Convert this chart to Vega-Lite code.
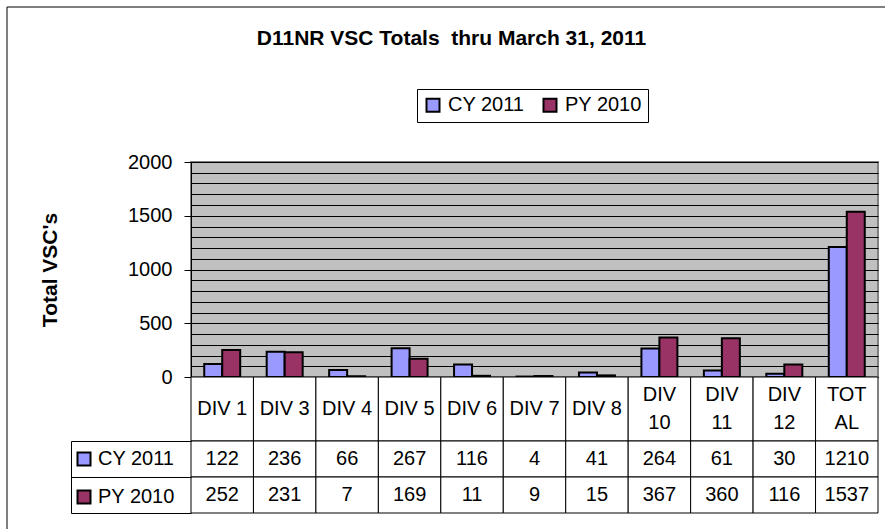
{
  "$schema": "https://vega.github.io/schema/vega-lite/v6.json",
  "background": "white",
  "padding": {"left": 6, "top": 6, "right": 0, "bottom": 0},
  "autosize": {"type": "pad"},
  "bounds": "flush",
  "spacing": 0,
  "config": {"font": "Liberation Sans", "view": {"stroke": null}},
  "resolve": {"scale": {"color": "independent"}, "legend": {"color": "independent"}},
  "datasets": {
    "series": [
      {"div": "DIV 1", "series": "CY 2011", "value": 122},
      {"div": "DIV 1", "series": "PY 2010", "value": 252},
      {"div": "DIV 3", "series": "CY 2011", "value": 236},
      {"div": "DIV 3", "series": "PY 2010", "value": 231},
      {"div": "DIV 4", "series": "CY 2011", "value": 66},
      {"div": "DIV 4", "series": "PY 2010", "value": 7},
      {"div": "DIV 5", "series": "CY 2011", "value": 267},
      {"div": "DIV 5", "series": "PY 2010", "value": 169},
      {"div": "DIV 6", "series": "CY 2011", "value": 116},
      {"div": "DIV 6", "series": "PY 2010", "value": 11},
      {"div": "DIV 7", "series": "CY 2011", "value": 4},
      {"div": "DIV 7", "series": "PY 2010", "value": 9},
      {"div": "DIV 8", "series": "CY 2011", "value": 41},
      {"div": "DIV 8", "series": "PY 2010", "value": 15},
      {"div": "DIV 10", "series": "CY 2011", "value": 264},
      {"div": "DIV 10", "series": "PY 2010", "value": 367},
      {"div": "DIV 11", "series": "CY 2011", "value": 61},
      {"div": "DIV 11", "series": "PY 2010", "value": 360},
      {"div": "DIV 12", "series": "CY 2011", "value": 30},
      {"div": "DIV 12", "series": "PY 2010", "value": 116},
      {"div": "TOTAL", "series": "CY 2011", "value": 1210},
      {"div": "TOTAL", "series": "PY 2010", "value": 1537}
    ],
    "cats": [
      {"div": "DIV 1", "label": "DIV 1"},
      {"div": "DIV 3", "label": "DIV 3"},
      {"div": "DIV 4", "label": "DIV 4"},
      {"div": "DIV 5", "label": "DIV 5"},
      {"div": "DIV 6", "label": "DIV 6"},
      {"div": "DIV 7", "label": "DIV 7"},
      {"div": "DIV 8", "label": "DIV 8"},
      {"div": "DIV 10", "label": "DIV\n10"},
      {"div": "DIV 11", "label": "DIV\n11"},
      {"div": "DIV 12", "label": "DIV\n12"},
      {"div": "TOTAL", "label": "TOT\nAL"}
    ]
  },
  "vconcat": [
    {
      "width": 687,
      "height": 215,
      "view": {"fill": "#C0C0C0", "stroke": "#808080", "strokeWidth": 2},
      "title": {
        "text": "D11NR VSC Totals\u00a0 thru March 31, 2011",
        "fontSize": 21,
        "fontWeight": "bold",
        "color": "black",
        "anchor": "middle",
        "frame": "group",
        "dx": -83,
        "offset": -42
      },
      "data": {"name": "series"},
      "encoding": {
        "x": {"field": "div", "type": "nominal", "sort": null, "scale": {"paddingInner": 0.424, "paddingOuter": 0.212}, "axis": null},
        "xOffset": {"field": "series", "type": "nominal", "sort": null, "scale": {"paddingInner": 0, "paddingOuter": 0}},
        "y": {
          "field": "value",
          "type": "quantitative",
          "scale": {"domain": [0, 2000], "nice": false},
          "axis": {
            "values": [0, 100, 200, 300, 400, 500, 600, 700, 800, 900, 1000, 1100, 1200, 1300, 1400, 1500, 1600, 1700, 1800, 1900, 2000],
            "labelExpr": "datum.value % 500 === 0 ? datum.value : ''",
            "grid": true,
            "gridColor": "black",
            "gridWidth": 1,
            "gridOpacity": 1,
            "domain": true,
            "domainColor": "black",
            "domainWidth": 1,
            "ticks": true,
            "tickSize": 7,
            "tickColor": {"condition": {"test": "datum.value % 500 === 0", "value": "black"}, "value": "transparent"},
            "labelFontSize": 20,
            "labelColor": "black",
            "labelPadding": 12,
            "title": "Total VSC's",
            "titleFontSize": 21,
            "titleFontWeight": "bold",
            "titleColor": "black",
            "titleAngle": -90,
            "titleX": -141,
            "titleY": 107.5,
            "titleBaseline": "middle",
            "titleAlign": "center"
          }
        }
      },
      "layer": [
        {
          "mark": {"type": "bar", "stroke": "black", "strokeWidth": 2},
          "encoding": {
            "color": {
              "field": "series",
              "type": "nominal",
              "sort": null,
              "scale": {"range": ["#9999FF", "#993366"]},
              "legend": {
                "orient": "none",
                "legendX": 226,
                "legendY": -73,
                "direction": "horizontal",
                "title": null,
                "strokeColor": "black",
                "fillColor": "white",
                "padding": 6,
                "symbolType": "square",
                "symbolSize": 169,
                "symbolStrokeColor": "black",
                "symbolStrokeWidth": 2,
                "symbolOpacity": 1,
                "labelFontSize": 20,
                "labelColor": "black",
                "labelOffset": 5,
                "columnPadding": 14
              }
            }
          }
        },
        {
          "mark": {"type": "text", "text": ""},
          "encoding": {
            "color": {
              "field": "value",
              "type": "quantitative",
              "scale": {"range": ["rgba(255,255,255,0)", "rgba(255,255,255,0)"]},
              "legend": {
                "type": "gradient",
                "orient": "none",
                "legendX": -184,
                "legendY": -155,
                "direction": "horizontal",
                "title": null,
                "labels": false,
                "labelExpr": "''",
                "labelFontSize": 1,
                "padding": 0,
                "gradientLength": 884,
                "gradientThickness": 528,
                "gradientStrokeColor": "black",
                "gradientStrokeWidth": 1
              }
            }
          }
        }
      ],
      "resolve": {"scale": {"color": "independent"}, "legend": {"color": "independent"}}
    },
    {
      "width": 687,
      "height": 64,
      "view": {"stroke": null},
      "data": {"name": "cats"},
      "encoding": {
        "x": {"field": "div", "type": "nominal", "sort": null, "scale": {"paddingInner": 0, "paddingOuter": 0}, "axis": null}
      },
      "layer": [
        {"mark": {"type": "rect", "fill": "white", "stroke": "black", "strokeWidth": 1}},
        {
          "transform": [{"filter": "indexof(datum.label, '\\n') < 0"}],
          "mark": {"type": "text", "fontSize": 20, "color": "black"},
          "encoding": {"text": {"field": "label", "type": "nominal"}}
        },
        {
          "transform": [{"filter": "indexof(datum.label, '\\n') >= 0"}],
          "mark": {"type": "text", "fontSize": 20, "lineBreak": "\n", "lineHeight": 28, "dy": -14, "color": "black"},
          "encoding": {"text": {"field": "label", "type": "nominal"}}
        }
      ]
    },
    {
      "width": 687,
      "height": 72,
      "view": {"stroke": null},
      "data": {"name": "series"},
      "encoding": {
        "x": {"field": "div", "type": "nominal", "sort": null, "scale": {"paddingInner": 0, "paddingOuter": 0}, "axis": null},
        "y": {
          "field": "series",
          "type": "nominal",
          "sort": null,
          "scale": {"paddingInner": 0, "paddingOuter": 0},
          "axis": {
            "orient": "left",
            "offset": 120,
            "domain": true,
            "domainColor": "black",
            "domainWidth": 1,
            "ticks": true,
            "tickBand": "extent",
            "tickSize": -120,
            "tickColor": "black",
            "tickWidth": 1,
            "labels": false,
            "title": null,
            "grid": false
          }
        }
      },
      "layer": [
        {"mark": {"type": "rect", "fill": "white", "stroke": "black", "strokeWidth": 1}},
        {
          "mark": {"type": "text", "fontSize": 20, "color": "black"},
          "encoding": {"text": {"field": "value", "type": "nominal"}}
        },
        {
          "mark": {"type": "text", "text": ""},
          "encoding": {
            "color": {
              "field": "series",
              "type": "nominal",
              "sort": null,
              "scale": {"range": ["#9999FF", "#993366"]},
              "legend": {
                "orient": "none",
                "legendX": -117,
                "legendY": 8,
                "direction": "vertical",
                "title": null,
                "padding": 0,
                "rowPadding": 16,
                "symbolType": "square",
                "symbolSize": 169,
                "symbolStrokeColor": "black",
                "symbolStrokeWidth": 2,
                "symbolOpacity": 1,
                "labelFontSize": 20,
                "labelColor": "black",
                "labelOffset": 4
              }
            }
          }
        }
      ]
    }
  ]
}
